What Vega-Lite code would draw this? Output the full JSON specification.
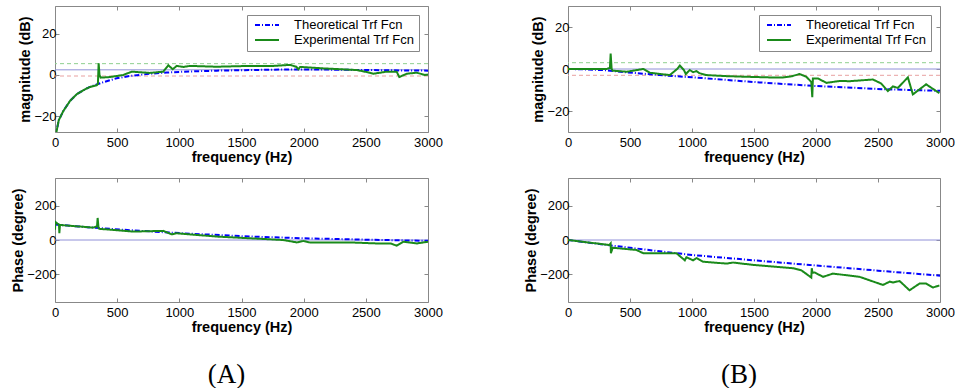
{
  "$schema": "https://vega.github.io/schema/vega-lite/v6.json",
  "padding": {"left": 10, "top": 5, "right": 0, "bottom": 0},
  "background": "white",
  "config": {
    "view": {"stroke": "#888", "strokeWidth": 1},
    "axis": {
      "labelFont": "Liberation Sans", "labelFontSize": 13, "labelColor": "#000",
      "titleFont": "Liberation Sans", "titleFontSize": 14.5, "titleFontWeight": "bold", "titleColor": "#000",
      "grid": false, "domain": false, "tickColor": "#888", "tickSize": -4, "labelPadding": 3, "titlePadding": 1, "format": "d"
    },
    "axisX": {"labelFlush": false, "labelPadding": 8},
    "legend": {
      "orient": "top-right", "offset": 9, "strokeColor": "#888", "fillColor": "#fff", "padding": 4,
      "labelFont": "Liberation Sans", "labelFontSize": 13, "labelColor": "#000", "symbolType": "M-2,0H2",
      "symbolSize": 144, "symbolStrokeWidth": 2, "rowPadding": 2, "clipHeight": 12, "symbolOffset": 9, "labelOffset": 20
    }
  },
  "datasets": {
    "Amag": [
      {"s": "Theoretical Trf Fcn", "f": 5, "v": -35}, {"s": "Theoretical Trf Fcn", "f": 13, "v": -27.2},
      {"s": "Theoretical Trf Fcn", "f": 30, "v": -22}, {"s": "Theoretical Trf Fcn", "f": 67, "v": -17.5},
      {"s": "Theoretical Trf Fcn", "f": 121, "v": -12.6}, {"s": "Theoretical Trf Fcn", "f": 174, "v": -9.4},
      {"s": "Theoretical Trf Fcn", "f": 228, "v": -7.4}, {"s": "Theoretical Trf Fcn", "f": 281, "v": -5.8},
      {"s": "Theoretical Trf Fcn", "f": 335, "v": -4.6}, {"s": "Theoretical Trf Fcn", "f": 400, "v": -3.3},
      {"s": "Theoretical Trf Fcn", "f": 496, "v": -1.6}, {"s": "Theoretical Trf Fcn", "f": 600, "v": -0.5},
      {"s": "Theoretical Trf Fcn", "f": 764, "v": 0.6}, {"s": "Theoretical Trf Fcn", "f": 900, "v": 1.2},
      {"s": "Theoretical Trf Fcn", "f": 1032, "v": 1.6}, {"s": "Theoretical Trf Fcn", "f": 1300, "v": 2.1},
      {"s": "Theoretical Trf Fcn", "f": 1568, "v": 2.4}, {"s": "Theoretical Trf Fcn", "f": 1900, "v": 2.7},
      {"s": "Theoretical Trf Fcn", "f": 2200, "v": 2.6}, {"s": "Theoretical Trf Fcn", "f": 2500, "v": 2.4},
      {"s": "Theoretical Trf Fcn", "f": 2800, "v": 2.2}, {"s": "Theoretical Trf Fcn", "f": 3000, "v": 2.1},
      {"s": "Experimental Trf Fcn", "f": 5, "v": -35}, {"s": "Experimental Trf Fcn", "f": 13, "v": -27.2},
      {"s": "Experimental Trf Fcn", "f": 30, "v": -22}, {"s": "Experimental Trf Fcn", "f": 67, "v": -17.5},
      {"s": "Experimental Trf Fcn", "f": 121, "v": -12.6}, {"s": "Experimental Trf Fcn", "f": 174, "v": -9.4},
      {"s": "Experimental Trf Fcn", "f": 228, "v": -7.4}, {"s": "Experimental Trf Fcn", "f": 281, "v": -5.8},
      {"s": "Experimental Trf Fcn", "f": 335, "v": -5.0}, {"s": "Experimental Trf Fcn", "f": 345, "v": -4.5},
      {"s": "Experimental Trf Fcn", "f": 351, "v": 5.7}, {"s": "Experimental Trf Fcn", "f": 358, "v": 0},
      {"s": "Experimental Trf Fcn", "f": 367, "v": -1.3}, {"s": "Experimental Trf Fcn", "f": 442, "v": -1.0},
      {"s": "Experimental Trf Fcn", "f": 549, "v": 0}, {"s": "Experimental Trf Fcn", "f": 617, "v": 1.6},
      {"s": "Experimental Trf Fcn", "f": 764, "v": 1.0}, {"s": "Experimental Trf Fcn", "f": 871, "v": 1.6},
      {"s": "Experimental Trf Fcn", "f": 911, "v": 4.7}, {"s": "Experimental Trf Fcn", "f": 947, "v": 2.8},
      {"s": "Experimental Trf Fcn", "f": 979, "v": 4.4}, {"s": "Experimental Trf Fcn", "f": 1032, "v": 3.9},
      {"s": "Experimental Trf Fcn", "f": 1086, "v": 4.4}, {"s": "Experimental Trf Fcn", "f": 1300, "v": 4.0},
      {"s": "Experimental Trf Fcn", "f": 1568, "v": 4.4}, {"s": "Experimental Trf Fcn", "f": 1756, "v": 4.4},
      {"s": "Experimental Trf Fcn", "f": 1890, "v": 4.9}, {"s": "Experimental Trf Fcn", "f": 1940, "v": 4.0},
      {"s": "Experimental Trf Fcn", "f": 1957, "v": 2.8}, {"s": "Experimental Trf Fcn", "f": 1971, "v": 3.9},
      {"s": "Experimental Trf Fcn", "f": 2158, "v": 3.2}, {"s": "Experimental Trf Fcn", "f": 2426, "v": 2.4},
      {"s": "Experimental Trf Fcn", "f": 2500, "v": 1.5}, {"s": "Experimental Trf Fcn", "f": 2560, "v": 0.6},
      {"s": "Experimental Trf Fcn", "f": 2668, "v": 1.6}, {"s": "Experimental Trf Fcn", "f": 2748, "v": 1.6},
      {"s": "Experimental Trf Fcn", "f": 2769, "v": -1.0}, {"s": "Experimental Trf Fcn", "f": 2829, "v": 0.6},
      {"s": "Experimental Trf Fcn", "f": 2909, "v": 1.1}, {"s": "Experimental Trf Fcn", "f": 2976, "v": 0},
      {"s": "Experimental Trf Fcn", "f": 3000, "v": 0.2}
    ],
    "Bmag": [
      {"s": "Theoretical Trf Fcn", "f": 0, "v": 0}, {"s": "Theoretical Trf Fcn", "f": 150, "v": -0.2},
      {"s": "Theoretical Trf Fcn", "f": 311, "v": -0.6}, {"s": "Theoretical Trf Fcn", "f": 473, "v": -1.6},
      {"s": "Theoretical Trf Fcn", "f": 741, "v": -2.9}, {"s": "Theoretical Trf Fcn", "f": 1009, "v": -4.0},
      {"s": "Theoretical Trf Fcn", "f": 1278, "v": -5.2}, {"s": "Theoretical Trf Fcn", "f": 1546, "v": -6.4},
      {"s": "Theoretical Trf Fcn", "f": 2000, "v": -8.1}, {"s": "Theoretical Trf Fcn", "f": 2538, "v": -9.6},
      {"s": "Theoretical Trf Fcn", "f": 3000, "v": -10.4},
      {"s": "Experimental Trf Fcn", "f": 0, "v": 0}, {"s": "Experimental Trf Fcn", "f": 311, "v": 0},
      {"s": "Experimental Trf Fcn", "f": 338, "v": 0.5}, {"s": "Experimental Trf Fcn", "f": 344, "v": 7.3},
      {"s": "Experimental Trf Fcn", "f": 352, "v": 0}, {"s": "Experimental Trf Fcn", "f": 360, "v": -0.8},
      {"s": "Experimental Trf Fcn", "f": 473, "v": -1.3}, {"s": "Experimental Trf Fcn", "f": 607, "v": 0},
      {"s": "Experimental Trf Fcn", "f": 660, "v": -1.8}, {"s": "Experimental Trf Fcn", "f": 821, "v": -2.9},
      {"s": "Experimental Trf Fcn", "f": 880, "v": 0}, {"s": "Experimental Trf Fcn", "f": 902, "v": 1.6},
      {"s": "Experimental Trf Fcn", "f": 935, "v": -0.5}, {"s": "Experimental Trf Fcn", "f": 950, "v": -2.4},
      {"s": "Experimental Trf Fcn", "f": 982, "v": -0.5}, {"s": "Experimental Trf Fcn", "f": 1010, "v": -1.5},
      {"s": "Experimental Trf Fcn", "f": 1036, "v": -1.0}, {"s": "Experimental Trf Fcn", "f": 1060, "v": -2.0},
      {"s": "Experimental Trf Fcn", "f": 1117, "v": -2.9}, {"s": "Experimental Trf Fcn", "f": 1278, "v": -3.4},
      {"s": "Experimental Trf Fcn", "f": 1439, "v": -3.7}, {"s": "Experimental Trf Fcn", "f": 1627, "v": -4.0},
      {"s": "Experimental Trf Fcn", "f": 1734, "v": -4.0}, {"s": "Experimental Trf Fcn", "f": 1800, "v": -3.5},
      {"s": "Experimental Trf Fcn", "f": 1868, "v": -2.4}, {"s": "Experimental Trf Fcn", "f": 1922, "v": -3.7},
      {"s": "Experimental Trf Fcn", "f": 1962, "v": -6.2}, {"s": "Experimental Trf Fcn", "f": 1970, "v": -13.4},
      {"s": "Experimental Trf Fcn", "f": 1975, "v": -4.5}, {"s": "Experimental Trf Fcn", "f": 2016, "v": -4.5},
      {"s": "Experimental Trf Fcn", "f": 2084, "v": -6.6}, {"s": "Experimental Trf Fcn", "f": 2191, "v": -5.7},
      {"s": "Experimental Trf Fcn", "f": 2271, "v": -5.8}, {"s": "Experimental Trf Fcn", "f": 2459, "v": -5.0},
      {"s": "Experimental Trf Fcn", "f": 2526, "v": -6.9}, {"s": "Experimental Trf Fcn", "f": 2580, "v": -10.5},
      {"s": "Experimental Trf Fcn", "f": 2620, "v": -8.3}, {"s": "Experimental Trf Fcn", "f": 2660, "v": -9.0},
      {"s": "Experimental Trf Fcn", "f": 2741, "v": -4.0}, {"s": "Experimental Trf Fcn", "f": 2781, "v": -12.1},
      {"s": "Experimental Trf Fcn", "f": 2888, "v": -7.3}, {"s": "Experimental Trf Fcn", "f": 2995, "v": -11.5}
    ],
    "Aph": [
      {"s": "Theoretical Trf Fcn", "f": 0, "v": 90}, {"s": "Theoretical Trf Fcn", "f": 300, "v": 72},
      {"s": "Theoretical Trf Fcn", "f": 600, "v": 57}, {"s": "Theoretical Trf Fcn", "f": 1000, "v": 40},
      {"s": "Theoretical Trf Fcn", "f": 1500, "v": 22}, {"s": "Theoretical Trf Fcn", "f": 2000, "v": 10},
      {"s": "Theoretical Trf Fcn", "f": 2500, "v": 2}, {"s": "Theoretical Trf Fcn", "f": 3000, "v": -5},
      {"s": "Experimental Trf Fcn", "f": 0, "v": 60}, {"s": "Experimental Trf Fcn", "f": 3, "v": 105},
      {"s": "Experimental Trf Fcn", "f": 20, "v": 95}, {"s": "Experimental Trf Fcn", "f": 32, "v": 90},
      {"s": "Experimental Trf Fcn", "f": 35, "v": 40}, {"s": "Experimental Trf Fcn", "f": 40, "v": 88},
      {"s": "Experimental Trf Fcn", "f": 60, "v": 86}, {"s": "Experimental Trf Fcn", "f": 308, "v": 72},
      {"s": "Experimental Trf Fcn", "f": 338, "v": 80}, {"s": "Experimental Trf Fcn", "f": 343, "v": 128},
      {"s": "Experimental Trf Fcn", "f": 350, "v": 70}, {"s": "Experimental Trf Fcn", "f": 356, "v": 65},
      {"s": "Experimental Trf Fcn", "f": 630, "v": 49}, {"s": "Experimental Trf Fcn", "f": 871, "v": 53},
      {"s": "Experimental Trf Fcn", "f": 898, "v": 45}, {"s": "Experimental Trf Fcn", "f": 938, "v": 33},
      {"s": "Experimental Trf Fcn", "f": 979, "v": 39}, {"s": "Experimental Trf Fcn", "f": 1300, "v": 20},
      {"s": "Experimental Trf Fcn", "f": 1836, "v": 0}, {"s": "Experimental Trf Fcn", "f": 1944, "v": -14},
      {"s": "Experimental Trf Fcn", "f": 1997, "v": -6}, {"s": "Experimental Trf Fcn", "f": 2050, "v": -14},
      {"s": "Experimental Trf Fcn", "f": 2373, "v": -14}, {"s": "Experimental Trf Fcn", "f": 2587, "v": -20},
      {"s": "Experimental Trf Fcn", "f": 2700, "v": -20}, {"s": "Experimental Trf Fcn", "f": 2748, "v": -33},
      {"s": "Experimental Trf Fcn", "f": 2801, "v": -10}, {"s": "Experimental Trf Fcn", "f": 2909, "v": -20},
      {"s": "Experimental Trf Fcn", "f": 3000, "v": -10}
    ],
    "Bph": [
      {"s": "Theoretical Trf Fcn", "f": 0, "v": 0}, {"s": "Theoretical Trf Fcn", "f": 360, "v": -33},
      {"s": "Theoretical Trf Fcn", "f": 700, "v": -62}, {"s": "Theoretical Trf Fcn", "f": 1000, "v": -87},
      {"s": "Theoretical Trf Fcn", "f": 1500, "v": -118}, {"s": "Theoretical Trf Fcn", "f": 1950, "v": -145},
      {"s": "Theoretical Trf Fcn", "f": 2500, "v": -178}, {"s": "Theoretical Trf Fcn", "f": 3000, "v": -207},
      {"s": "Experimental Trf Fcn", "f": 0, "v": 0}, {"s": "Experimental Trf Fcn", "f": 333, "v": -29},
      {"s": "Experimental Trf Fcn", "f": 344, "v": -20}, {"s": "Experimental Trf Fcn", "f": 346, "v": -77},
      {"s": "Experimental Trf Fcn", "f": 360, "v": -45}, {"s": "Experimental Trf Fcn", "f": 553, "v": -58},
      {"s": "Experimental Trf Fcn", "f": 607, "v": -77}, {"s": "Experimental Trf Fcn", "f": 875, "v": -77},
      {"s": "Experimental Trf Fcn", "f": 942, "v": -118}, {"s": "Experimental Trf Fcn", "f": 955, "v": -100},
      {"s": "Experimental Trf Fcn", "f": 1009, "v": -118}, {"s": "Experimental Trf Fcn", "f": 1036, "v": -105},
      {"s": "Experimental Trf Fcn", "f": 1090, "v": -126}, {"s": "Experimental Trf Fcn", "f": 1278, "v": -137},
      {"s": "Experimental Trf Fcn", "f": 1331, "v": -131}, {"s": "Experimental Trf Fcn", "f": 1500, "v": -145},
      {"s": "Experimental Trf Fcn", "f": 1815, "v": -164}, {"s": "Experimental Trf Fcn", "f": 1882, "v": -176},
      {"s": "Experimental Trf Fcn", "f": 1962, "v": -218}, {"s": "Experimental Trf Fcn", "f": 1966, "v": -164},
      {"s": "Experimental Trf Fcn", "f": 1972, "v": -190}, {"s": "Experimental Trf Fcn", "f": 1990, "v": -189},
      {"s": "Experimental Trf Fcn", "f": 2057, "v": -214}, {"s": "Experimental Trf Fcn", "f": 2137, "v": -195},
      {"s": "Experimental Trf Fcn", "f": 2352, "v": -214}, {"s": "Experimental Trf Fcn", "f": 2540, "v": -261},
      {"s": "Experimental Trf Fcn", "f": 2594, "v": -242}, {"s": "Experimental Trf Fcn", "f": 2620, "v": -247},
      {"s": "Experimental Trf Fcn", "f": 2674, "v": -238}, {"s": "Experimental Trf Fcn", "f": 2754, "v": -292},
      {"s": "Experimental Trf Fcn", "f": 2835, "v": -253}, {"s": "Experimental Trf Fcn", "f": 2888, "v": -253},
      {"s": "Experimental Trf Fcn", "f": 2942, "v": -276}, {"s": "Experimental Trf Fcn", "f": 2995, "v": -264}
    ]
  },
  "spacing": 80,
  "resolve": {"scale": {"color": "independent", "strokeDash": "independent", "x": "independent", "y": "independent"}},
  "hconcat": [
    {
      "title": {"text": "(A)", "orient": "bottom", "anchor": "middle", "font": "Liberation Serif", "fontSize": 27, "fontWeight": "normal", "color": "#000", "offset": 28},
      "spacing": 13,
      "resolve": {"scale": {"color": "independent", "strokeDash": "independent", "x": "independent", "y": "independent"}},
      "vconcat": [
        {
          "width": 373, "height": 126,
          "resolve": {"axis": {"x": "independent", "y": "independent"}},
          "layer": [
            {"data": {"values": [{"v": 5.5}]}, "mark": {"type": "rule", "color": "#90d090", "strokeDash": [4, 3], "strokeWidth": 1}, "encoding": {"y": {"field": "v", "type": "quantitative", "axis": null}}},
            {"data": {"values": [{"v": 2.5}]}, "mark": {"type": "rule", "color": "#9090d8", "strokeWidth": 1}, "encoding": {"y": {"field": "v", "type": "quantitative", "axis": null}}},
            {"data": {"values": [{"v": -0.5}]}, "mark": {"type": "rule", "color": "#e8a0a0", "strokeDash": [4, 3], "strokeWidth": 1}, "encoding": {"y": {"field": "v", "type": "quantitative", "axis": null}}},
            {
              "data": {"name": "Amag"},
              "mark": {"type": "line", "opacity": 0},
              "encoding": {
                "x": {"field": "f", "type": "quantitative", "axis": {"orient": "top", "labels": false, "title": null, "values": [0, 500, 1000, 1500, 2000, 2500, 3000]}},
                "y": {"field": "v", "type": "quantitative", "axis": {"orient": "right", "labels": false, "title": null, "values": [-20, 0, 20]}}
              }
            },
            {
              "data": {"name": "Amag"},
              "mark": {"type": "line", "strokeWidth": 2, "clip": true},
              "encoding": {
                "x": {"field": "f", "type": "quantitative", "scale": {"domain": [0, 3000], "nice": false}, "axis": {"orient": "bottom", "values": [0, 500, 1000, 1500, 2000, 2500, 3000], "title": "frequency (Hz)"}},
                "y": {"field": "v", "type": "quantitative", "scale": {"domain": [-27.7, 33.5], "nice": false, "zero": false}, "axis": {"orient": "left", "values": [-20, 0, 20], "title": "magnitude (dB)"}},
                "color": {"field": "s", "type": "nominal", "sort": null, "scale": {"domain": ["Theoretical Trf Fcn", "Experimental Trf Fcn"], "range": ["#0000ff", "#1a8a1a"]}, "legend": {"title": null}},
                "strokeDash": {"field": "s", "type": "nominal", "sort": null, "scale": {"domain": ["Theoretical Trf Fcn", "Experimental Trf Fcn"], "range": [[5, 2, 1, 2], [1, 0]]}, "legend": {"title": null}}
              }
            }
          ]
        },
        {
          "width": 373, "height": 124,
          "resolve": {"axis": {"x": "independent", "y": "independent"}},
          "layer": [
            {"data": {"values": [{"v": 0}]}, "mark": {"type": "rule", "color": "#9090d8", "strokeWidth": 1}, "encoding": {"y": {"field": "v", "type": "quantitative", "axis": null}}},
            {
              "data": {"name": "Aph"},
              "mark": {"type": "line", "opacity": 0},
              "encoding": {
                "x": {"field": "f", "type": "quantitative", "axis": {"orient": "top", "labels": false, "title": null, "values": [0, 500, 1000, 1500, 2000, 2500, 3000]}},
                "y": {"field": "v", "type": "quantitative", "axis": {"orient": "right", "labels": false, "title": null, "values": [-200, 0, 200]}}
              }
            },
            {
              "data": {"name": "Aph"},
              "mark": {"type": "line", "strokeWidth": 2, "clip": true},
              "encoding": {
                "x": {"field": "f", "type": "quantitative", "scale": {"domain": [0, 3000], "nice": false}, "axis": {"orient": "bottom", "values": [0, 500, 1000, 1500, 2000, 2500, 3000], "title": "frequency (Hz)"}},
                "y": {"field": "v", "type": "quantitative", "scale": {"domain": [-360, 360], "nice": false}, "axis": {"orient": "left", "values": [-200, 0, 200], "title": "Phase (degree)"}},
                "color": {"field": "s", "type": "nominal", "sort": null, "scale": {"domain": ["Theoretical Trf Fcn", "Experimental Trf Fcn"], "range": ["#0000ff", "#1a8a1a"]}, "legend": null},
                "strokeDash": {"field": "s", "type": "nominal", "sort": null, "scale": {"domain": ["Theoretical Trf Fcn", "Experimental Trf Fcn"], "range": [[5, 2, 1, 2], [1, 0]]}, "legend": null}
              }
            }
          ]
        }
      ]
    },
    {
      "title": {"text": "(B)", "orient": "bottom", "anchor": "middle", "font": "Liberation Serif", "fontSize": 27, "fontWeight": "normal", "color": "#000", "offset": 28},
      "spacing": 13,
      "resolve": {"scale": {"color": "independent", "strokeDash": "independent", "x": "independent", "y": "independent"}},
      "vconcat": [
        {
          "width": 372, "height": 126,
          "resolve": {"axis": {"x": "independent", "y": "independent"}},
          "layer": [
            {"data": {"values": [{"v": 3}]}, "mark": {"type": "rule", "color": "#90d090", "strokeDash": [4, 3], "strokeWidth": 1}, "encoding": {"y": {"field": "v", "type": "quantitative", "axis": null}}},
            {"data": {"values": [{"v": 0}]}, "mark": {"type": "rule", "color": "#9090d8", "strokeWidth": 1}, "encoding": {"y": {"field": "v", "type": "quantitative", "axis": null}}},
            {"data": {"values": [{"v": -3}]}, "mark": {"type": "rule", "color": "#e8a0a0", "strokeDash": [4, 3], "strokeWidth": 1}, "encoding": {"y": {"field": "v", "type": "quantitative", "axis": null}}},
            {
              "data": {"name": "Bmag"},
              "mark": {"type": "line", "opacity": 0},
              "encoding": {
                "x": {"field": "f", "type": "quantitative", "axis": {"orient": "top", "labels": false, "title": null, "values": [0, 500, 1000, 1500, 2000, 2500, 3000]}},
                "y": {"field": "v", "type": "quantitative", "axis": {"orient": "right", "labels": false, "title": null, "values": [-20, 0, 20]}}
              }
            },
            {
              "data": {"name": "Bmag"},
              "mark": {"type": "line", "strokeWidth": 2, "clip": true},
              "encoding": {
                "x": {"field": "f", "type": "quantitative", "scale": {"domain": [0, 3000], "nice": false}, "axis": {"orient": "bottom", "values": [0, 500, 1000, 1500, 2000, 2500, 3000], "title": "frequency (Hz)"}},
                "y": {"field": "v", "type": "quantitative", "scale": {"domain": [-30, 30], "nice": false}, "axis": {"orient": "left", "values": [-20, 0, 20], "title": "magnitude (dB)"}},
                "color": {"field": "s", "type": "nominal", "sort": null, "scale": {"domain": ["Theoretical Trf Fcn", "Experimental Trf Fcn"], "range": ["#0000ff", "#1a8a1a"]}, "legend": {"title": null}},
                "strokeDash": {"field": "s", "type": "nominal", "sort": null, "scale": {"domain": ["Theoretical Trf Fcn", "Experimental Trf Fcn"], "range": [[5, 2, 1, 2], [1, 0]]}, "legend": {"title": null}}
              }
            }
          ]
        },
        {
          "width": 372, "height": 124,
          "resolve": {"axis": {"x": "independent", "y": "independent"}},
          "layer": [
            {"data": {"values": [{"v": 0}]}, "mark": {"type": "rule", "color": "#9090d8", "strokeWidth": 1}, "encoding": {"y": {"field": "v", "type": "quantitative", "axis": null}}},
            {
              "data": {"name": "Bph"},
              "mark": {"type": "line", "opacity": 0},
              "encoding": {
                "x": {"field": "f", "type": "quantitative", "axis": {"orient": "top", "labels": false, "title": null, "values": [0, 500, 1000, 1500, 2000, 2500, 3000]}},
                "y": {"field": "v", "type": "quantitative", "axis": {"orient": "right", "labels": false, "title": null, "values": [-200, 0, 200]}}
              }
            },
            {
              "data": {"name": "Bph"},
              "mark": {"type": "line", "strokeWidth": 2, "clip": true},
              "encoding": {
                "x": {"field": "f", "type": "quantitative", "scale": {"domain": [0, 3000], "nice": false}, "axis": {"orient": "bottom", "values": [0, 500, 1000, 1500, 2000, 2500, 3000], "title": "frequency (Hz)"}},
                "y": {"field": "v", "type": "quantitative", "scale": {"domain": [-360, 360], "nice": false}, "axis": {"orient": "left", "values": [-200, 0, 200], "title": "Phase (degree)"}},
                "color": {"field": "s", "type": "nominal", "sort": null, "scale": {"domain": ["Theoretical Trf Fcn", "Experimental Trf Fcn"], "range": ["#0000ff", "#1a8a1a"]}, "legend": null},
                "strokeDash": {"field": "s", "type": "nominal", "sort": null, "scale": {"domain": ["Theoretical Trf Fcn", "Experimental Trf Fcn"], "range": [[5, 2, 1, 2], [1, 0]]}, "legend": null}
              }
            }
          ]
        }
      ]
    }
  ]
}
